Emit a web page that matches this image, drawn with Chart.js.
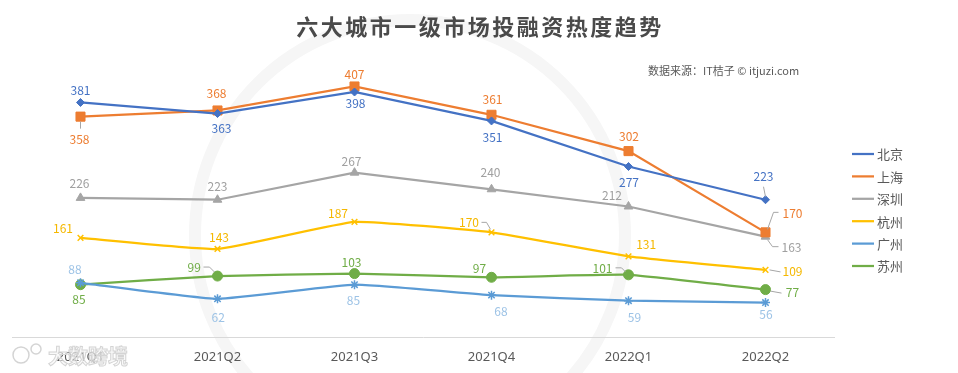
<!DOCTYPE html>
<html lang="zh">
<head>
<meta charset="UTF-8">
<title>六大城市一级市场投融资热度趋势</title>
<style>
  html, body { margin: 0; padding: 0; background: #fff; }
  #wrap { position: relative; width: 958px; height: 373px; }
</style>
</head>
<body>
<div id="wrap"><canvas id="chart" width="958" height="373"></canvas></div>
<script src="https://cdn.jsdelivr.net/npm/chart.js"></script>
<script>
// data
const quarters = ['2021Q1', '2021Q2', '2021Q3', '2021Q4', '2022Q1', '2022Q2'];
const cities = ['北京', '上海', '深圳', '杭州', '广州', '苏州'];
const beijing = [381, 363, 398, 351, 277, 223];
const shanghai = [358, 368, 407, 361, 302, 170];
const shenzhen = [226, 223, 267, 240, 212, 163];
const hangzhou = [161, 143, 187, 170, 131, 109];
const guangzhou = [88, 62, 85, 68, 59, 56];
const suzhou = [85, 99, 103, 97, 101, 77];
const yMin = 0, yMax = 450;

const lineColors = ['#4472C4', '#ED7D31', '#A5A5A5', '#FFC000', '#5B9BD5', '#70AD47'];
const labelColors = ['#4472C4', '#ED7D31', '#A0A0A0', '#F5B800', '#9DC3E6', '#70AD47'];
const markers = ['rectRot', 'rect', 'triangle', 'crossRot', 'star', 'circle'];
const markerSize = [4, 6.4, 5, 4, 4.5, 5];
const tension = [0, 0, 0, 0.12, 0.12, 0.12];

// label offsets from the point [dx, dy], and optional leader line (relative points)
const labelPlace = [
  [[0,-12],[4,15],[1,11],[1,16],[0.5,15.5],[-2,-23,[[-2,-13],[0,-3]]]],
  [[-1,23,[[0,5],[0,12]]],[-1,-17],[0,-12.5],[1,-15],[0.5,-15],[27,-19,[[2,-3],[8,-20],[13,-20]]]],
  [[-1,-14.6],[0,-13],[-3,-11.6],[-1,-16.6],[-16.5,-11],[26,11,[[2,3],[7,10],[13,10]]]],
  [[-17.5,-9],[1.5,-11.3],[-16.5,-8.6],[-22.5,-10,[[-10,-10],[-5,-10],[-1,-3]]],[17.7,-12],[27,1.8,[[4,0],[15,2]]]],
  [[-5.5,-13],[0.7,19],[-1,15.3],[9.5,16.6],[6,17],[0.5,11.5]],
  [[-1.5,14.3],[-23.3,-8.3,[[-14,-9],[-8,-9],[-3,-4]]],[-3,-11],[-12,-9],[-26,-6.5,[[-13,-7],[-7,-7],[-3,-3]]],[27,3,[[5,1.5],[16,3.5]]]]
];

const seriesValues = [beijing, shanghai, shenzhen, hangzhou, guangzhou, suzhou];
const cjk = '"Noto Sans CJK SC", "Noto Sans", sans-serif';

const datasets = cities.map((name, i) => ({
  label: name,
  data: seriesValues[i],
  borderColor: lineColors[i],
  backgroundColor: lineColors[i],
  borderWidth: 2.25,
  pointStyle: markers[i],
  pointRadius: markerSize[i],
  pointHoverRadius: markerSize[i],
  pointBackgroundColor: lineColors[i],
  pointBorderColor: lineColors[i],
  pointBorderWidth: (markers[i] === 'crossRot' || markers[i] === 'star') ? 1.5 : 1,
  tension: tension[i],
  fill: false
}));

// faint watermark behind everything
const watermark = {
  id: 'watermark',
  beforeDraw(chart) {
    const ctx = chart.ctx;
    ctx.save();
    ctx.strokeStyle = '#f6f6f6';
    ctx.lineWidth = 12;
    ctx.beginPath();
    ctx.arc(410, 235, 215, 0, Math.PI * 2);
    ctx.stroke();
    ctx.restore();
  }
};

const valueLabels = {
  id: 'valueLabels',
  afterDatasetsDraw(chart) {
    const ctx = chart.ctx;
    ctx.save();
    ctx.font = '12px ' + cjk;
    ctx.textAlign = 'center';
    ctx.textBaseline = 'middle';
    chart.data.datasets.forEach((ds, i) => {
      const meta = chart.getDatasetMeta(i);
      meta.data.forEach((pt, j) => {
        const p = labelPlace[i][j];
        if (p[2]) {
          ctx.strokeStyle = '#A6A6A6';
          ctx.lineWidth = 1;
          ctx.beginPath();
          p[2].forEach((q, k) => {
            if (k === 0) ctx.moveTo(pt.x + q[0], pt.y + q[1]);
            else ctx.lineTo(pt.x + q[0], pt.y + q[1]);
          });
          ctx.stroke();
        }
        ctx.fillStyle = labelColors[i];
        ctx.fillText(String(ds.data[j]), pt.x + p[0], pt.y + p[1]);
      });
    });
    ctx.restore();
  }
};

const extras = {
  id: 'extras',
  afterDraw(chart) {
    const ctx = chart.ctx;
    ctx.save();
    // title
    ctx.fillStyle = '#4a4a4a';
    ctx.font = 'bold 22px ' + cjk;
    ctx.textAlign = 'center';
    ctx.textBaseline = 'middle';
    ctx.letterSpacing = '2.5px';
    ctx.fillText('六大城市一级市场投融资热度趋势', 480, 27);
    ctx.letterSpacing = '0px';
    // source
    ctx.fillStyle = '#595959';
    ctx.font = '11px ' + cjk;
    ctx.textAlign = 'left';
    ctx.fillText('数据来源：IT桔子 © itjuzi.com', 648, 71);

    // legend from datasets
    const legendTop = 154, legendStep = 22.4;
    chart.data.datasets.forEach((ds, i) => {
      const y = legendTop + i * legendStep;
      ctx.strokeStyle = ds.borderColor;
      ctx.lineWidth = 2.25;
      ctx.beginPath();
      ctx.moveTo(852, y);
      ctx.lineTo(874, y);
      ctx.stroke();
      ctx.fillStyle = ds.borderColor;
      ctx.strokeStyle = ds.borderColor;
      ctx.lineWidth = ds.pointBorderWidth;
      Chart.helpers.drawPoint(ctx, {pointStyle: ds.pointStyle, rotation: 0, borderWidth: ds.pointBorderWidth}, 863, y, ds.pointRadius * 0.9);
      ctx.fillStyle = '#595959';
      ctx.font = '13px ' + cjk;
      ctx.textAlign = 'left';
      ctx.fillText(ds.label, 877, y + 0.5);
    });

    // bottom-left brand mark
    ctx.font = 'bold 20px ' + cjk;
    ctx.textAlign = 'left';
    ctx.lineWidth = 1;
    ctx.strokeStyle = '#d4d4d4';
    ctx.fillStyle = 'rgba(245,245,245,0.6)';
    ctx.fillText('大数跨境', 48, 356);
    ctx.strokeText('大数跨境', 48, 356);
    ctx.lineWidth = 1.5;
    ctx.beginPath();
    ctx.arc(21, 355, 8, 0, Math.PI * 2);
    ctx.moveTo(41, 349);
    ctx.arc(36, 349, 5, 0, Math.PI * 2);
    ctx.stroke();
    ctx.restore();
  }
};

new Chart(document.getElementById('chart'), {
  type: 'line',
  data: { labels: quarters, datasets: datasets },
  options: {
    responsive: false,
    animation: false,
    layout: { padding: { left: 12, right: 124, top: 60, bottom: 0 } },
    plugins: {
      legend: { display: false },
      title: { display: false },
      tooltip: { enabled: false }
    },
    scales: {
      x: {
        offset: true,
        grid: { display: false, drawTicks: false },
        border: { display: true, color: '#D9D9D9', width: 1 },
        ticks: {
          color: '#595959',
          font: { size: 13, family: '"Noto Sans", sans-serif' },
          padding: 12,
          maxRotation: 0
        },
        afterFit(scale) { scale.height = 36; }
      },
      y: {
        display: false,
        min: yMin,
        max: yMax
      }
    }
  },
  plugins: [watermark, valueLabels, extras]
});
</script>
</body>
</html>
